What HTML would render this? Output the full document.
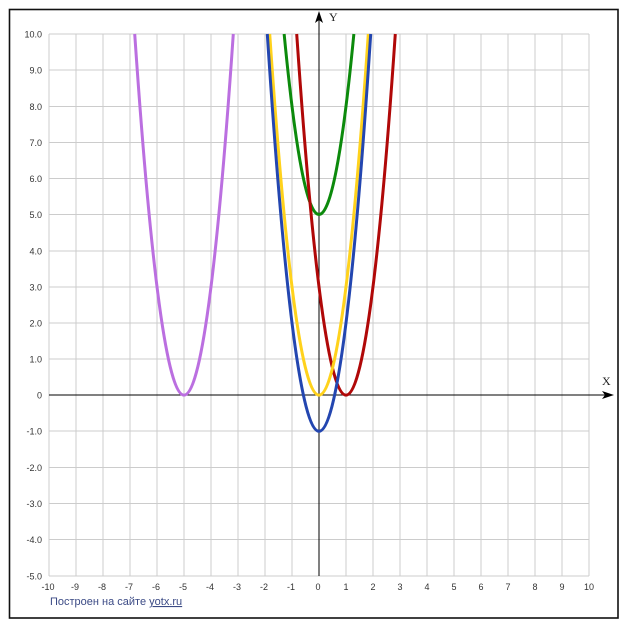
<!DOCTYPE html>
<html><head><meta charset="utf-8"><style>
html,body{margin:0;padding:0;background:#fff;}
svg{display:block;}
</style></head><body>
<svg width="627" height="630" viewBox="0 0 627 630" xmlns="http://www.w3.org/2000/svg">
<rect x="0" y="0" width="627" height="630" fill="#fff"/>
<rect x="9.5" y="9.5" width="608.5" height="608.5" fill="none" stroke="#111" stroke-width="1.6"/>
<g stroke="#cccccc" stroke-width="1" shape-rendering="crispEdges">
<line x1="49" y1="34" x2="49" y2="576"/><line x1="76" y1="34" x2="76" y2="576"/><line x1="103" y1="34" x2="103" y2="576"/><line x1="130" y1="34" x2="130" y2="576"/><line x1="157" y1="34" x2="157" y2="576"/><line x1="184" y1="34" x2="184" y2="576"/><line x1="211" y1="34" x2="211" y2="576"/><line x1="238" y1="34" x2="238" y2="576"/><line x1="265" y1="34" x2="265" y2="576"/><line x1="292" y1="34" x2="292" y2="576"/><line x1="346" y1="34" x2="346" y2="576"/><line x1="373" y1="34" x2="373" y2="576"/><line x1="400" y1="34" x2="400" y2="576"/><line x1="427" y1="34" x2="427" y2="576"/><line x1="454" y1="34" x2="454" y2="576"/><line x1="481" y1="34" x2="481" y2="576"/><line x1="508" y1="34" x2="508" y2="576"/><line x1="535" y1="34" x2="535" y2="576"/><line x1="562" y1="34" x2="562" y2="576"/><line x1="589" y1="34" x2="589" y2="576"/>
<line x1="49" y1="34" x2="589" y2="34"/><line x1="49" y1="70.1" x2="589" y2="70.1"/><line x1="49" y1="106.3" x2="589" y2="106.3"/><line x1="49" y1="142.4" x2="589" y2="142.4"/><line x1="49" y1="178.5" x2="589" y2="178.5"/><line x1="49" y1="214.7" x2="589" y2="214.7"/><line x1="49" y1="250.8" x2="589" y2="250.8"/><line x1="49" y1="286.9" x2="589" y2="286.9"/><line x1="49" y1="323" x2="589" y2="323"/><line x1="49" y1="359.2" x2="589" y2="359.2"/><line x1="49" y1="431.1" x2="589" y2="431.1"/><line x1="49" y1="467.3" x2="589" y2="467.3"/><line x1="49" y1="503.4" x2="589" y2="503.4"/><line x1="49" y1="539.5" x2="589" y2="539.5"/><line x1="49" y1="576" x2="589" y2="576"/>
</g>
<g stroke="#000" stroke-width="1" shape-rendering="crispEdges">
<line x1="49" y1="395" x2="608" y2="395"/>
<line x1="319" y1="576" x2="319" y2="18"/>
</g>
<polygon points="614,395 602,391 605,395 602,399" fill="#000"/>
<polygon points="319,11 315,23 319,20 323,23" fill="#000"/>
<text x="329" y="21" font-family="Liberation Serif, serif" font-size="12" fill="#222">Y</text>
<text x="602" y="385" font-family="Liberation Serif, serif" font-size="12" fill="#222">X</text>
<g font-family="Liberation Sans, sans-serif" font-size="9" fill="#333" text-anchor="end">
<text x="42" y="37.5">10.0</text><text x="42" y="73.6">9.0</text><text x="42" y="109.8">8.0</text><text x="42" y="145.9">7.0</text><text x="42" y="182">6.0</text><text x="42" y="218.2">5.0</text><text x="42" y="254.3">4.0</text><text x="42" y="290.4">3.0</text><text x="42" y="326.5">2.0</text><text x="42" y="362.7">1.0</text><text x="42" y="398.5">0</text><text x="42" y="434.6">-1.0</text><text x="42" y="470.8">-2.0</text><text x="42" y="506.9">-3.0</text><text x="42" y="543">-4.0</text><text x="42" y="579.5">-5.0</text>
</g>
<g font-family="Liberation Sans, sans-serif" font-size="9" fill="#333" text-anchor="middle">
<text x="48" y="590">-10</text><text x="75" y="590">-9</text><text x="102" y="590">-8</text><text x="129" y="590">-7</text><text x="156" y="590">-6</text><text x="183" y="590">-5</text><text x="210" y="590">-4</text><text x="237" y="590">-3</text><text x="264" y="590">-2</text><text x="291" y="590">-1</text><text x="318" y="590">0</text><text x="346" y="590">1</text><text x="373" y="590">2</text><text x="400" y="590">3</text><text x="427" y="590">4</text><text x="454" y="590">5</text><text x="481" y="590">6</text><text x="508" y="590">7</text><text x="535" y="590">8</text><text x="562" y="590">9</text><text x="589" y="590">10</text>
</g>
<g fill="none" stroke-width="3">
<path d="M134.71,34 Q184,756.3 233.29,34" stroke="#bb6fe0"/>
<path d="M284.14,34 Q319,395 353.86,34" stroke="#0c8a0c"/>
<path d="M296.71,34 Q346,756.3 395.29,34" stroke="#b00808"/>
<path d="M269.71,34 Q319,756.3 368.29,34" stroke="#ffd21c"/>
<path d="M267.30,34 Q319,828.56 370.70,34" stroke="#2346b0"/>
</g>
<text x="50" y="605" font-family="Liberation Sans, sans-serif" font-size="11" fill="#3b4a85">Построен на сайте <tspan text-decoration="underline">yotx.ru</tspan></text>
</svg>
</body></html>
